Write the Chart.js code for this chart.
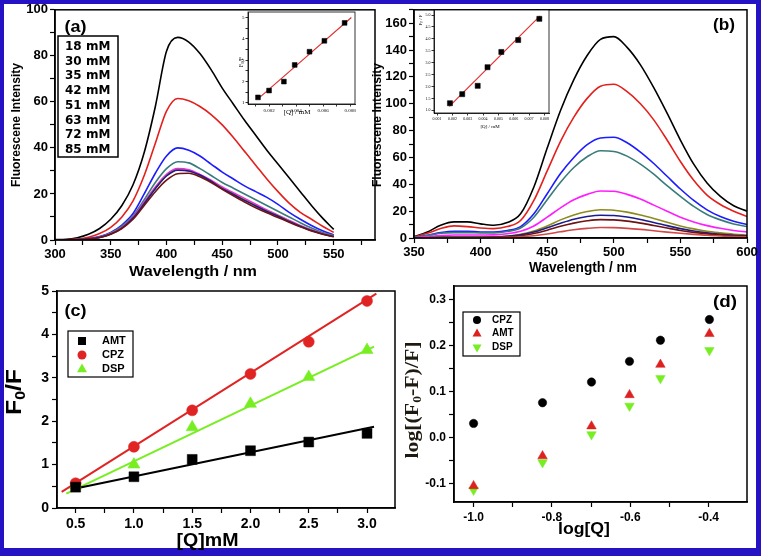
<!DOCTYPE html>
<html>
<head>
<meta charset="utf-8">
<script src="https://cdn.jsdelivr.net/npm/chart.js@4.4.1/dist/chart.umd.min.js"></script>
<style>
  body { margin: 0; background: #2412c4; }
  #wrap { position: relative; width: 761px; height: 556px; overflow: hidden; }
  #paper { position: absolute; left: 4px; top: 4px; width: 752px; height: 544px; background: #fff; }
  canvas { position: absolute; left: 0; top: 0; }
</style>
</head>
<body>
<div id="wrap">
  <div id="paper"></div>
  <canvas id="pa" width="761" height="556"></canvas>
  <canvas id="pb" width="761" height="556"></canvas>
  <canvas id="pc" width="761" height="556"></canvas>
  <canvas id="pd" width="761" height="556"></canvas>
  <canvas id="ia" width="761" height="556"></canvas>
  <canvas id="ib" width="761" height="556"></canvas>
</div>
<script>
// ---- panel (a): emission spectra, one per concentration
const wlA = [300,310,320,330,340,350,360,370,380,390,400,410,420,430,440,450,460,470,480,490,500,510,520,530,540,550];
const concA = ['18 mM','30 mM','35 mM','42 mM','51 mM','63 mM','72 mM','85 mM'];
const a18 = [0.2,0.3,1,2.5,5,9,15,24,38,58,82,88,86,81,74,66,59,52,45.5,39,33,27,21,15,9.5,4.6];
const a30 = [0,0.1,0.4,1.2,2.8,5.5,10,17,28,42,56,61.5,60.5,58,54.5,50,44.5,38.5,32.5,26.5,21,16,12,9,6,3.3];
const a35 = [0,0,0.2,0.6,1.5,3.3,6.5,11.5,20,29,36.5,40,39,36.5,33,29.5,26.5,23.5,21,18.5,15.5,12,9,6.3,4,2.2];
const a42 = [0,0,0.2,0.5,1.3,3,6,10.5,17.5,25,31,34,33.5,31,28,25,22.5,20,17.5,15,12.5,10,7.5,5.2,3.3,1.9];
const a51 = [0,0,0.2,0.5,1.2,2.8,5.5,10,16.5,23,28.5,31,30.5,28.5,26,23,20.5,18,15.5,13,10.8,8.5,6.3,4.4,2.8,1.6];
const a63 = [0,0,0.15,0.45,1.1,2.7,5.3,9.7,16,22.5,28,30.5,30,28,25.5,22.5,20,17.5,15,12.6,10.5,8.2,6.1,4.2,2.7,1.5];
const a72 = [0,0,0.15,0.45,1.1,2.6,5.2,9.5,15.8,22.3,27.8,30.3,30,28.2,25.5,22.3,19.8,17.2,14.8,12.4,10.3,8,6,4.1,2.6,1.5];
const a85 = [0,0,0.15,0.45,1.1,2.5,5,9,15,21,26,28.8,29,27.5,25,22,19.2,16.5,14,11.8,9.8,7.7,5.7,3.9,2.5,1.4];

// ---- panel (b): emission spectra
const wlB = [350,360,370,380,390,400,410,420,430,440,450,460,470,480,490,500,510,520,530,540,550,560,570,580,590,600];
const b1 = [1,4.5,9.5,12,12,10.5,9.5,11.5,18,38,67,95,118,136,148,150,142,129,112,93,73,55,41,31,24,20];
const b2 = [0.8,3.5,7,9,8.5,7.5,7,8.5,13,28,50,72,90,104,113,114.5,109,100,88,73,57,43,32,25,20,16];
const b3 = [0.5,2,4,5,5,4.5,4.5,5.5,8.5,18,33,48,60,69.5,74.5,75,71,64,55.5,46,36.5,28,21,16,12.5,10];
const b4 = [0.4,1.8,3.5,4,4,3.8,3.8,4.8,7.5,15.5,28.5,41.5,52.5,60.5,65,64.5,61,55,47.5,39,31,23.5,17.5,13.5,10.5,8.5];
const b5 = [0.2,1,1.8,2.2,2.2,2.2,2.3,3.2,5,9,15.5,22.5,28.5,32.5,35,34.8,32.5,29,24.5,20,15.5,12,9.2,7.2,5.6,4.5];
const b6 = [0,0.3,0.6,0.8,0.8,0.8,0.9,1.5,2.8,5.2,9,13.5,17.2,19.7,21,20.7,19.3,17.2,14.6,11.8,9,6.8,5,3.8,2.8,2.2];
const b7 = [0,0.2,0.5,0.6,0.6,0.6,0.7,1.2,2.3,4.4,7.6,11,14,16,17,16.8,15.6,13.8,11.6,9.2,7,5.2,3.8,2.8,2.1,1.7];
const b8 = [0,0.1,0.3,0.4,0.4,0.4,0.5,0.9,1.7,3.3,5.8,8.7,11.1,12.8,13.7,13.5,12.6,11.1,9.3,7.4,5.6,4.2,3.1,2.3,1.7,1.3];
const b9 = [0,0,0.1,0.2,0.2,0.2,0.3,0.5,0.9,1.7,3,4.6,6.1,7.2,7.8,7.7,7.2,6.4,5.4,4.4,3.5,2.7,2,1.5,1.1,0.9];

// ---- insets: Stern-Volmer F0/F vs [Q]
const insAQ = [0.00118,0.0020,0.0031,0.0039,0.0050,0.0061,0.0076];
const insAF = [1.26,1.58,2.0,2.78,3.40,3.91,4.75];
const insAFitQ = [0.0012,0.0081];
const insAFitF = [1.2,5.0];
const insBQ = [0.00184,0.00264,0.00365,0.00429,0.00519,0.00629,0.00767];
const insBF = [1.30,1.68,2.03,2.81,3.45,3.95,4.84];
const insBFitQ = [0.0018,0.0077];
const insBFitF = [1.17,4.95];

// ---- panel (c): F0/F vs [Q]
const qC = [0.5,1.0,1.5,2.0,2.5,3.0];
const amtC = [0.48,0.72,1.12,1.32,1.52,1.72];
const cpzC = [0.57,1.41,2.25,3.09,3.83,4.77];
const dspC = [0.52,1.0,1.86,2.4,3.02,3.64];
const amtFitQ = [0.5,3.06], amtFitF = [0.45,1.87];
const cpzFitQ = [0.38,3.08], cpzFitF = [0.37,4.94];
const dspFitQ = [0.42,3.06], dspFitF = [0.33,3.72];

// ---- panel (d): log[(F0-F)/F] vs log[Q]
const logQ = [-1.0,-0.824,-0.699,-0.602,-0.523,-0.398];
const cpzD = [0.031,0.076,0.121,0.166,0.212,0.257];
const amtD = [-0.105,-0.040,0.025,0.093,0.159,0.226];
const dspD = [-0.114,-0.054,0.007,0.069,0.129,0.19];

const SANS = "'Liberation Sans', Arial, sans-serif";
const SERIF = "'Liberation Serif', 'Times New Roman', serif";
const pts = (xs, ys) => xs.map((x, i) => ({ x, y: ys[i] }));
const isMult = (v, m) => Math.abs(v / m - Math.round(v / m)) < 1e-6;

function ax(min, max, step, major, fmt, o) {
  return {
    min, max,
    ticks: {
      stepSize: step, includeBounds: false, autoSkip: false, maxRotation: 0, minRotation: 0,
      padding: o.pad, color: '#000',
      font: { family: o.family || SANS, size: o.size, weight: o.weight || 'bold' },
      callback: v => isMult(v, major) ? fmt(v) : ''
    },
    grid: { drawOnChartArea: false, tickLength: o.tl || 5, tickColor: '#000', tickWidth: o.tw || 1.2 },
    border: { color: '#000', width: o.bw || 1.5 }
  };
}

function text(ctx, s, x, y, font, o = {}) {
  ctx.save();
  ctx.font = font;
  ctx.fillStyle = o.color || '#000';
  ctx.textAlign = o.align || 'center';
  ctx.textBaseline = 'middle';
  ctx.translate(x, y);
  if (o.rot) ctx.rotate(-Math.PI / 2);
  if (o.w) ctx.scale(o.w / ctx.measureText(s).width, 1);
  ctx.fillText(s, 0, 0);
  ctx.restore();
}

// text with subscripts: parts = [[string, font, dy], ...]
function rich(ctx, parts, x, y, o = {}) {
  ctx.save();
  ctx.translate(x, y);
  if (o.rot) ctx.rotate(-Math.PI / 2);
  ctx.fillStyle = o.color || '#000';
  ctx.textBaseline = 'middle';
  ctx.textAlign = 'left';
  let tot = 0;
  parts.forEach(p => { ctx.font = p[1]; tot += ctx.measureText(p[0]).width; });
  if (o.w) ctx.scale(o.w / tot, 1);
  let cx = -tot / 2;
  parts.forEach(p => { ctx.font = p[1]; ctx.fillText(p[0], cx, p[2] || 0); cx += ctx.measureText(p[0]).width; });
  ctx.restore();
}

function mark(ctx, kind, x, y, r, color) {
  ctx.save();
  ctx.fillStyle = color;
  ctx.beginPath();
  if (kind === 'rect') ctx.rect(x - r, y - r, 2 * r, 2 * r);
  else if (kind === 'circle') ctx.arc(x, y, r, 0, 2 * Math.PI);
  else {
    const s = kind === 'up' ? -1 : 1;
    ctx.moveTo(x, y + s * r);
    ctx.lineTo(x + r * 0.9, y - s * r * 0.6);
    ctx.lineTo(x - r * 0.9, y - s * r * 0.6);
    ctx.closePath();
  }
  ctx.fill();
  ctx.restore();
}

function box(ctx, x1, y1, x2, y2, w) {
  ctx.save();
  ctx.strokeStyle = '#000';
  ctx.lineWidth = w;
  ctx.strokeRect(x1, y1, x2 - x1, y2 - y1);
  ctx.restore();
}

// rect = [left, top, right, bottom] of the plot area in page pixels
function plot(id, rect, datasets, sx, sy, o) {
  sx.afterFit = s => { s.height = 556 - rect[3]; };
  sy.afterFit = s => { s.width = rect[0]; };
  return new Chart(document.getElementById(id), {
    type: 'scatter',
    data: { datasets },
    options: {
      responsive: false, animation: false, events: [],
      layout: { padding: { left: 0, top: rect[1], right: 761 - rect[2], bottom: 0 } },
      plugins: { legend: { display: false }, tooltip: { enabled: false } },
      scales: { x: sx, y: sy }
    },
    plugins: [{
      id: 'deco',
      beforeDraw(c) {
        if (o.fill) {
          const a = c.chartArea;
          c.ctx.save(); c.ctx.fillStyle = '#fff';
          c.ctx.fillRect(a.left, a.top, a.right - a.left, a.bottom - a.top);
          c.ctx.restore();
        }
      },
      afterDraw(c) {
        const a = c.chartArea;
        box(c.ctx, a.left, a.top, a.right, a.bottom, o.bw || 1.5);
        if (o.draw) o.draw(c.ctx);
      }
    }]
  });
}

const line = (xs, ys, color, w) => ({
  data: pts(xs, ys), showLine: true, borderColor: color, borderWidth: w || 1.6,
  pointRadius: 0, cubicInterpolationMode: 'monotone', order: 10
});
const dots = (xs, ys, color, style, r, rot) => ({
  data: pts(xs, ys), showLine: false, pointStyle: style, pointRadius: r, rotation: rot || 0,
  pointBackgroundColor: color, pointBorderColor: color, pointBorderWidth: 0.5, order: 1
});

// ---------- (a)
const colA = ['#000000','#e3201c','#1c1cff','#3a7b7b','#ff1cff','#8c8c1c','#1c1c8c','#6e1414'];
const seriesA = [a18, a30, a35, a42, a51, a63, a72, a85];
plot('pa', [55, 7, 375, 240],
  seriesA.map((s, i) => line(wlA, s, colA[i])).reverse(),
  ax(300, 587, 25, 50, v => v, { size: 13, pad: 2 }),
  ax(0, 100, 10, 20, v => v, { size: 13, pad: 2 }),
  { draw(ctx) {
      text(ctx, 'Fluorescene Intensity', 16, 125, `bold 13px ${SANS}`, { rot: true, w: 124 });
      text(ctx, 'Wavelength / nm', 193, 272, `bold 14px ${SANS}`, { w: 128 });
      text(ctx, '(a)', 75.5, 27, `bold 17px ${SANS}`, { w: 22 });
      box(ctx, 58, 36, 118, 157, 1.5);
      concA.forEach((s, i) => text(ctx, s, 65, 46.7 + i * 14.75, `bold 12px 'DejaVu Sans', ${SANS}`, { align: 'left' }));
  } });

// ---------- (b)
const colB = ['#000000','#e3201c','#1c1cff','#3a7b7b','#ff1cff','#8c8c1c','#1c1c8c','#6e1414','#d04848'];
const seriesB = [b1, b2, b3, b4, b5, b6, b7, b8, b9];
plot('pb', [414, 8, 747, 238],
  seriesB.map((s, i) => line(wlB, s, colB[i])).reverse(),
  ax(350, 600, 25, 50, v => v, { size: 13, pad: 2 }),
  ax(0, 170, 10, 20, v => v, { size: 13, pad: 2 }),
  { draw(ctx) {
      text(ctx, 'Fluorescene Intensity', 377, 125, `bold 13px ${SANS}`, { rot: true, w: 124 });
      text(ctx, 'Wavelength / nm', 583, 268, `bold 14px ${SANS}`, { w: 108 });
      text(ctx, '(b)', 724, 25, `bold 17px ${SANS}`, { w: 22 });
  } });

// ---------- (c)
plot('pc', [57, 291, 395, 508],
  [
    line(amtFitQ, amtFitF, '#000000', 2),
    line(cpzFitQ, cpzFitF, '#e02424', 2),
    line(dspFitQ, dspFitF, '#77ee22', 2),
    dots(qC, amtC, '#000000', 'rect', 7),
    dots(qC, cpzC, '#e02424', 'circle', 5.5),
    dots(qC, dspC, '#77ee22', 'triangle', 7)
  ],
  ax(0.34, 3.24, 0.25, 0.5, v => v.toFixed(1), { size: 14, pad: 3 }),
  ax(0, 5, 0.5, 1, v => v, { size: 14, pad: 3 }),
  { draw(ctx) {
      text(ctx, '(c)', 75.5, 311, `bold 17px ${SANS}`, { w: 22 });
      rich(ctx, [['F', `bold 22px ${SANS}`], ['0', `bold 14px ${SANS}`, 6], ['/F', `bold 22px ${SANS}`]],
        15, 392, { rot: true, w: 46 });
      text(ctx, '[Q]mM', 207.5, 541, `bold 18px ${SANS}`, { w: 62 });
      box(ctx, 68, 331, 133, 377, 1.2);
      const f = `bold 11px ${SANS}`;
      mark(ctx, 'rect', 82, 341, 4, '#000000'); text(ctx, 'AMT', 102, 341, f, { align: 'left' });
      mark(ctx, 'circle', 82, 355, 4.5, '#e02424'); text(ctx, 'CPZ', 102, 355, f, { align: 'left' });
      mark(ctx, 'up', 82, 369, 5.5, '#77ee22'); text(ctx, 'DSP', 102, 369, f, { align: 'left' });
  } });

// ---------- (d)
plot('pd', [454, 286, 747, 502],
  [
    dots(logQ, cpzD, '#000000', 'circle', 4.2),
    dots(logQ, amtD, '#dd2020', 'triangle', 5.5),
    dots(logQ, dspD, '#77ee22', 'triangle', 5.5, 180)
  ],
  ax(-1.05, -0.302, 0.1, 0.2, v => v.toFixed(1), { size: 12, pad: 3 }),
  ax(-0.14, 0.33, 0.05, 0.1, v => v.toFixed(1), { size: 12, pad: 3 }),
  { draw(ctx) {
      text(ctx, '(d)', 725, 302, `bold 17px ${SANS}`, { w: 24 });
      rich(ctx, [['log[(F', `bold 19px ${SERIF}`], ['0', `bold 12px ${SERIF}`, 5], ['-F)/F]', `bold 19px ${SERIF}`]],
        413, 400, { rot: true, color: '#1e1a10', w: 117 });
      text(ctx, 'log[Q]', 584, 529, `bold 17px ${SANS}`, { w: 52 });
      box(ctx, 463, 312, 520, 356, 1.2);
      const f = `bold 10px ${SANS}`;
      mark(ctx, 'circle', 477, 320, 4, '#000000'); text(ctx, 'CPZ', 492, 320, f, { align: 'left' });
      mark(ctx, 'up', 477, 333.5, 5, '#dd2020'); text(ctx, 'AMT', 492, 333.5, f, { align: 'left' });
      mark(ctx, 'down', 477, 347.5, 5, '#77ee22'); text(ctx, 'DSP', 492, 347.5, f, { align: 'left' });
  } });

// ---------- inset (a)
const inOpts = { size: 5, pad: 1, family: SERIF, weight: 'normal', tl: 2.5, tw: 0.8, bw: 0.8 };
plot('ia', [248, 12, 355, 104],
  [
    line(insAFitQ, insAFitF, '#e03030', 1.2),
    dots(insAQ, insAF, '#000000', 'rect', 3.4)
  ],
  ax(0.00044, 0.00837, 0.001, 0.002, v => v.toFixed(3), inOpts),
  ax(0.95, 5.26, 0.5, 1, v => v, inOpts),
  { fill: true, bw: 0.8, draw(ctx) {
      rich(ctx, [['F', `6px ${SERIF}`], ['0', `4px ${SERIF}`, 1.5], ['/F', `6px ${SERIF}`]], 241, 62, { rot: true });
      text(ctx, '[Q] / mM', 297, 112, `7px ${SERIF}`);
  } });

// ---------- inset (b)
plot('ib', [434, 10, 549, 113],
  [
    line(insBFitQ, insBFitF, '#e03030', 1.2),
    dots(insBQ, insBF, '#000000', 'rect', 3.6)
  ],
  ax(0.0008, 0.0083, 0.001, 0.001, v => v.toFixed(3), { ...inOpts, size: 4 }),
  ax(0.89, 5.21, 0.5, 0.5, v => v.toFixed(1), { ...inOpts, size: 4 }),
  { fill: true, bw: 0.8, draw(ctx) {
      rich(ctx, [['F', `5px ${SERIF}`], ['0', `3.5px ${SERIF}`, 1.5], [' / F', `5px ${SERIF}`]], 421, 20, { rot: true });
      text(ctx, '[Q] / mM', 490, 127, `5px ${SERIF}`);
  } });
</script>
</body>
</html>
